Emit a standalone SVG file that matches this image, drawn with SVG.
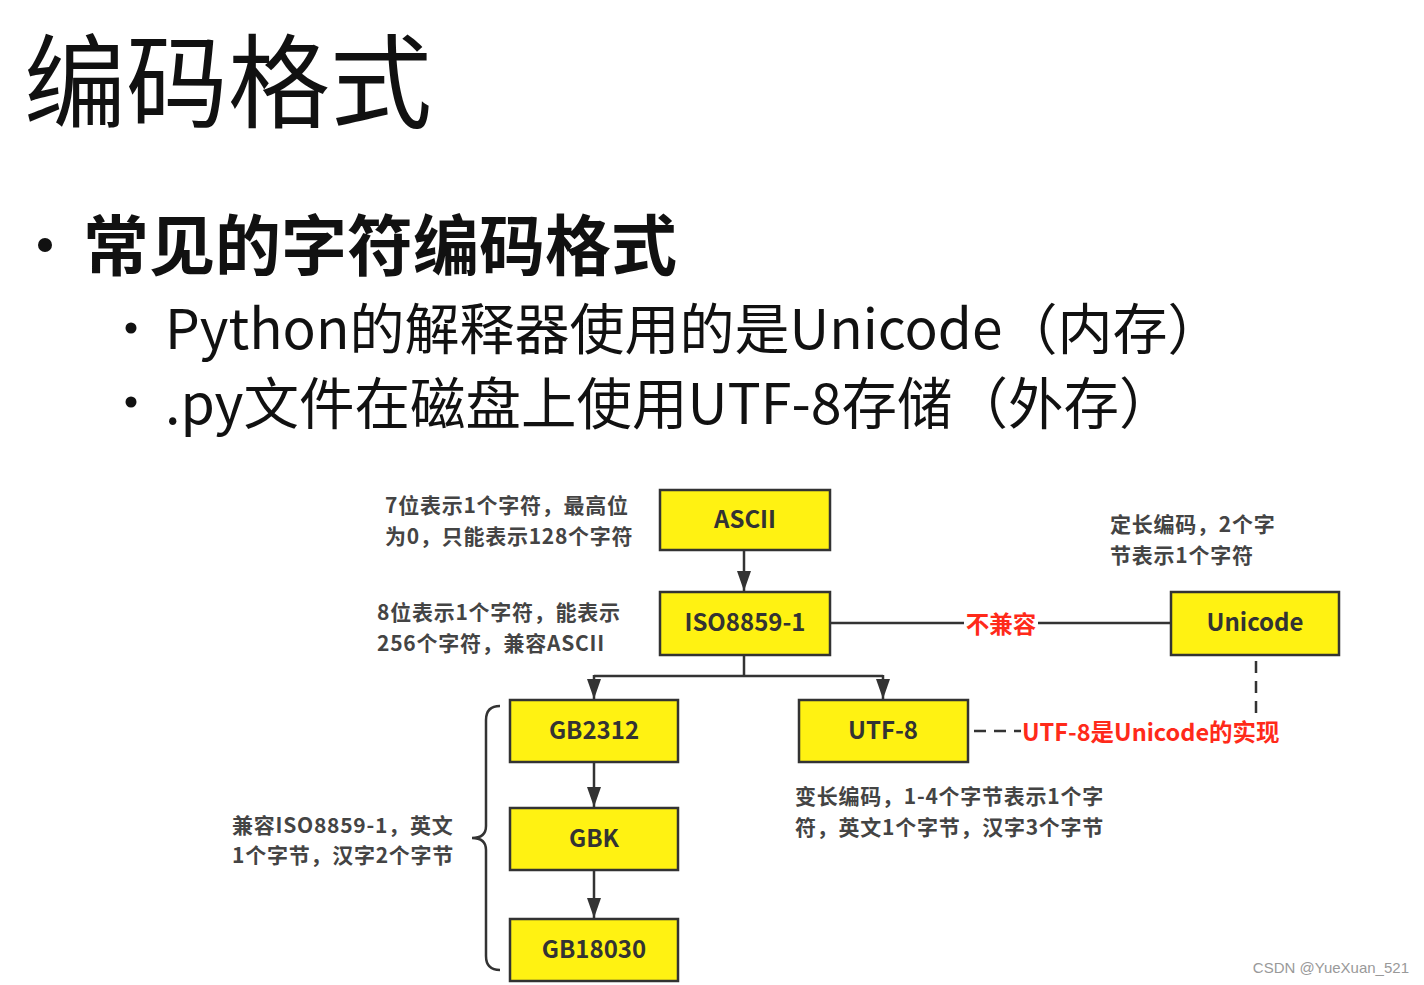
<svg xmlns="http://www.w3.org/2000/svg" width="1424" height="985" viewBox="0 0 1424 985">
<defs>
<marker id="arrh" viewBox="0 0 20 14" refX="20" refY="7" markerWidth="20" markerHeight="14" markerUnits="userSpaceOnUse" orient="auto">
<path d="M0,0 L20,7 L0,14 z" fill="#333"/>
</marker>
<style>
.cjk{font-family:"Noto Sans CJK SC","Noto Sans",sans-serif}
.box{fill:#FFF212;stroke:#333;stroke-width:2.5}
.lbl{font-family:"Noto Sans CJK SC","Noto Sans",sans-serif;font-weight:bold;font-size:24px;fill:#333;text-anchor:middle}
.note{font-family:"Noto Sans CJK SC","Noto Sans",sans-serif;font-weight:bold;font-size:21px;letter-spacing:0.75px;fill:#444}
.red{font-family:"Noto Sans CJK SC","Noto Sans",sans-serif;font-weight:bold;font-size:23.5px;fill:#FF2A1A}
.ln{fill:none;stroke:#333;stroke-width:2.5}
.dash{fill:none;stroke:#333;stroke-width:2.5;stroke-dasharray:12,8}
</style>
</defs>
<rect width="1424" height="985" fill="#fff"/>
<g id="title">
<text class="cjk" x="24" y="120" font-size="102" fill="#111">编码格式</text>
</g>
<g id="bullets">
<circle cx="45" cy="245" r="7" fill="#111"/>
<text class="cjk" x="83" y="270" font-size="66" font-weight="bold" fill="#111">常见的字符编码格式</text>
<circle cx="131" cy="328" r="5.5" fill="#111"/>
<text class="cjk" x="165" y="349" font-size="55" fill="#111">Python的解释器使用的是Unicode（内存）</text>
<circle cx="131" cy="402" r="5.5" fill="#111"/>
<text class="cjk" x="165" y="424" font-size="55.5" fill="#111">.py文件在磁盘上使用UTF-8存储（外存）</text>
</g>
<g id="connectors">
<line class="ln" x1="744" y1="551" x2="744" y2="591" marker-end="url(#arrh)"/>
<line class="ln" x1="744" y1="656" x2="744" y2="676"/>
<polyline class="ln" points="594,676 883,676"/>
<line class="ln" x1="594" y1="675" x2="594" y2="699" marker-end="url(#arrh)"/>
<line class="ln" x1="883" y1="675" x2="883" y2="699" marker-end="url(#arrh)"/>
<line class="ln" x1="594" y1="763" x2="594" y2="807" marker-end="url(#arrh)"/>
<line class="ln" x1="594" y1="871" x2="594" y2="918" marker-end="url(#arrh)"/>
<line class="ln" x1="831" y1="623" x2="1170" y2="623"/>
<polyline class="dash" points="974,731 1256,731 1256,656"/>
<path d="M500,706 Q486,706 486,720 L486,826 Q486,838 472,838 Q486,838 486,850 L486,956 Q486,970 500,970" class="ln"/>
</g>
<g id="label-incompat">
<rect x="964" y="609" width="74" height="30" fill="#fff"/>
<text class="red" x="1001" y="633" text-anchor="middle">不兼容</text>
</g>
<g id="label-impl">
<rect x="1021" y="714" width="262" height="34" fill="#fff"/>
<text class="red" x="1022" y="741">UTF-8是Unicode的实现</text>
</g>
<g id="ascii"><rect class="box" x="660" y="490" width="170" height="60"/><text class="lbl" x="745" y="528">ASCII</text></g>
<g id="iso"><rect class="box" x="660" y="592" width="170" height="63"/><text class="lbl" x="745" y="631">ISO8859-1</text></g>
<g id="unicode"><rect class="box" x="1171" y="592" width="168" height="63"/><text class="lbl" x="1255" y="631">Unicode</text></g>
<g id="gb2312"><rect class="box" x="510" y="700" width="168" height="62"/><text class="lbl" x="594" y="739">GB2312</text></g>
<g id="utf8"><rect class="box" x="799" y="700" width="169" height="62"/><text class="lbl" x="883" y="739">UTF-8</text></g>
<g id="gbk"><rect class="box" x="510" y="808" width="168" height="62"/><text class="lbl" x="594" y="847">GBK</text></g>
<g id="gb18030"><rect class="box" x="510" y="919" width="168" height="62"/><text class="lbl" x="594" y="958">GB18030</text></g>
<g id="notes">
<text class="note" x="385" y="512.5">7位表示1个字符，最高位</text>
<text class="note" x="385" y="543.5">为0，只能表示128个字符</text>
<text class="note" x="377" y="619.5">8位表示1个字符，能表示</text>
<text class="note" x="377" y="650.5">256个字符，兼容ASCII</text>
<text class="note" x="1110" y="531.5">定长编码，2个字</text>
<text class="note" x="1110" y="562.5">节表示1个字符</text>
<text class="note" x="232" y="832.5">兼容ISO8859-1，英文</text>
<text class="note" x="232" y="862.5">1个字节，汉字2个字节</text>
<text class="note" x="795" y="803.5">变长编码，1-4个字节表示1个字</text>
<text class="note" x="795" y="834.5">符，英文1个字节，汉字3个字节</text>
</g>
<g id="watermark">
<text x="1409" y="973" text-anchor="end" font-family="Liberation Sans, sans-serif" font-size="15" fill="#999">CSDN @YueXuan_521</text>
</g>
</svg>
